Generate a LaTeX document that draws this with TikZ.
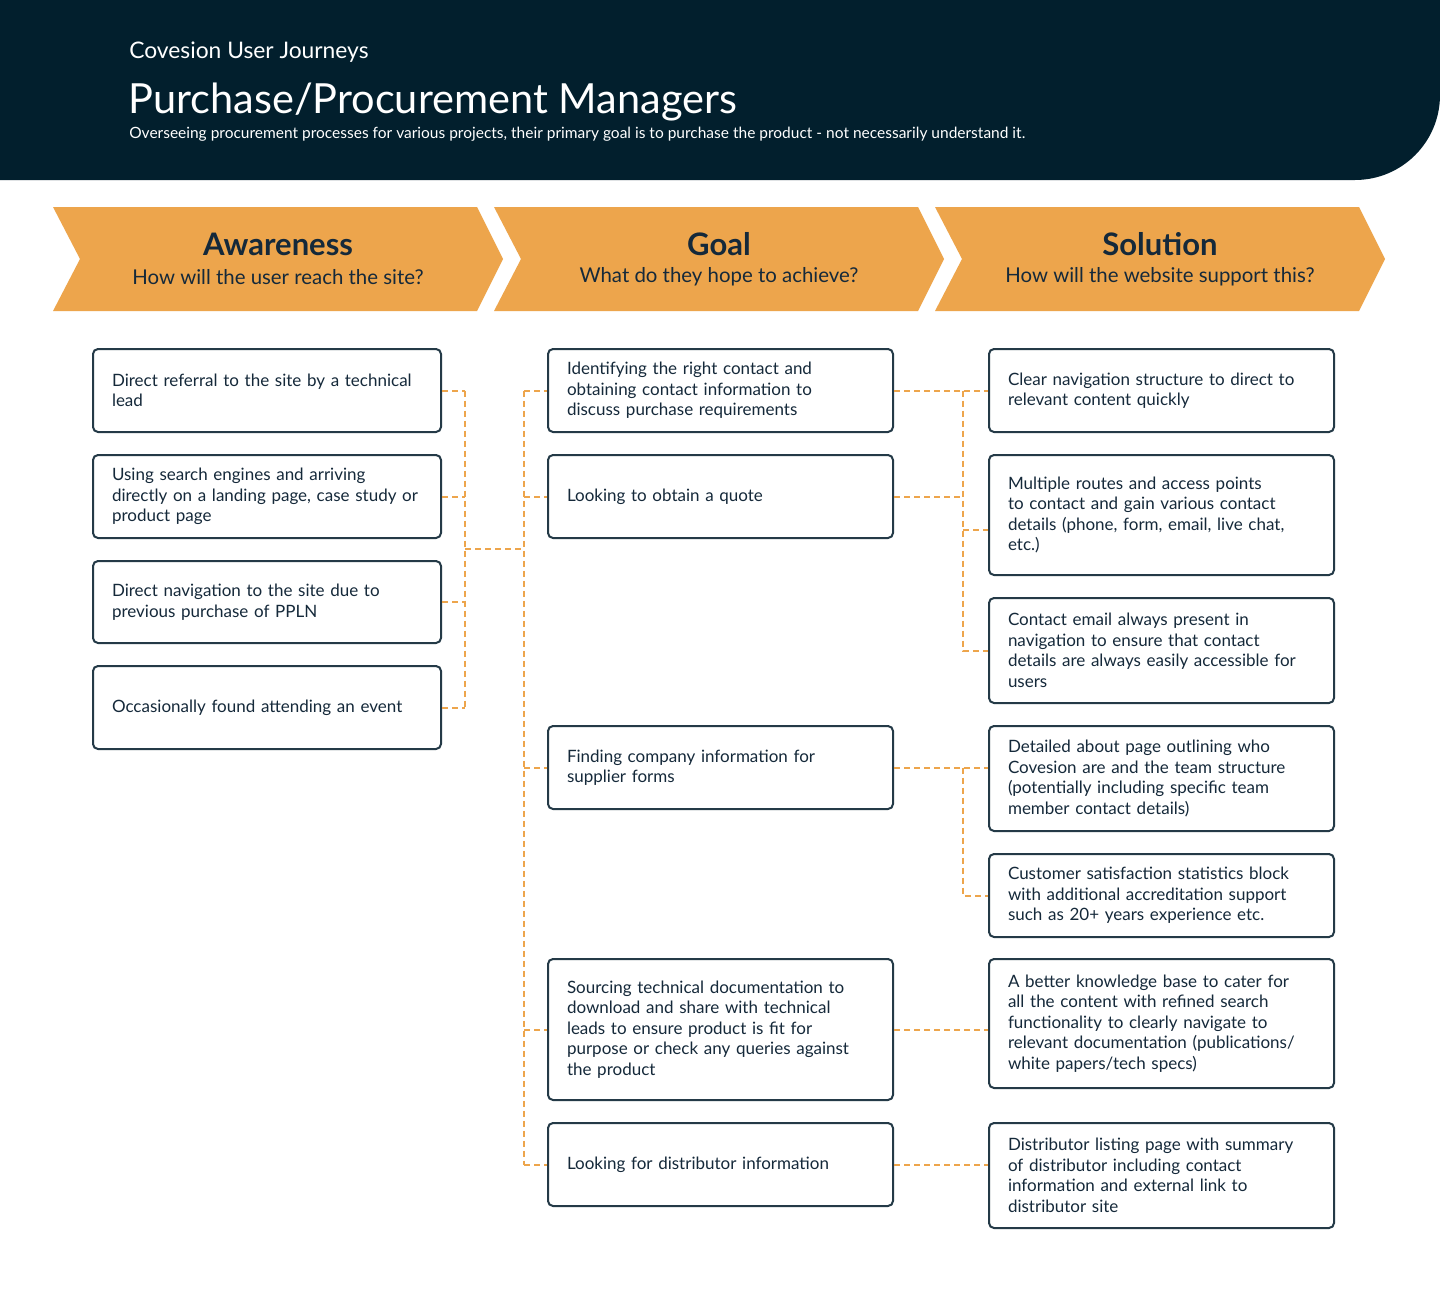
\documentclass[tikz,border=0pt]{standalone}
\usepackage{fontspec}
\setmainfont{Lato}
\usetikzlibrary{calc}
\definecolor{cnavy}{HTML}{021F2D}
\definecolor{corange}{HTML}{EDA54C}
\definecolor{cink}{HTML}{15293A}
\definecolor{cedge}{HTML}{243A47}
\tikzset{
  every picture/.style={line width=2pt},
  box/.style={draw=cedge, rounded corners=5pt, anchor=north west, text=cink, align=left,
    text width=307pt, inner xsep=19pt, inner ysep=0pt, font=\fontsize{17}{20.5}\selectfont},
  widebox/.style={box, text width=310pt},
  link/.style={draw=corange, line width=2pt, dash pattern=on 6pt off 4pt},
  chevron/.style={fill=corange},
  stage/.style={text=cink, font=\fontsize{31}{33}\selectfont\bfseries},
  question/.style={text=cink, font=\fontsize{20.4}{23}\selectfont},
}

\begin{document}
\begin{tikzpicture}[x=1pt, y=-1pt]
  \useasboundingbox[fill=white] (0,0) rectangle (1440,1309);
  \fill[cnavy] (0,0) -- (1440,0) -- (1440,95) .. controls (1440,142) and (1402,180) .. (1355,180) -- (0,180) -- cycle;
  \node[anchor=base west, text=white, font=\fontsize{22.8}{25}\selectfont] (kicker) at (125,58) {Covesion User Journeys};
  \node[anchor=base west, text=white, font=\fontsize{41.5}{45}\selectfont] (title) at (124,113) {Purchase/Procurement Managers};
  \node[anchor=base west, text=white, font=\fontsize{15.5}{17}\selectfont] (lede) at (125,138) {Overseeing procurement processes for various projects, their primary goal is to purchase the product - not necessarily understand it.};

  \foreach \x/\n/\s/\q in {53/aw/Awareness/How will the user reach the site?, 494/go/Goal/What do they hope to achieve?, 935/so/Solution/How will the website support this?}{
    \fill[chevron] (\x,207) -- (\x+424,207) -- (\x+450,259) -- (\x+424,311) -- (\x,311) -- (\x+27,259) -- cycle;
    \node[stage] (\n) at (\x+225,244) {\s};
    \node[question] (\n q) at (\x+225,277) {\q};
  }

  \node[widebox, minimum height=83pt] (a1) at (92,348) {Direct referral to the site by a technical\\lead};
  \node[widebox, minimum height=83pt] (a2) at (92,454) {Using search engines and arriving\\directly on a landing page, case study or\\product page};
  \node[widebox, minimum height=82pt] (a3) at (92,560) {Direct navigation to the site due to\\previous purchase of PPLN};
  \node[widebox, minimum height=83pt] (a4) at (92,665) {Occasionally found attending an event};

  \node[box, minimum height=83pt] (g1) at (547,348) {Identifying the right contact and\\obtaining contact information to\\discuss purchase requirements};
  \node[box, minimum height=83pt] (g2) at (547,454) {Looking to obtain a quote};
  \node[box, minimum height=83pt] (g3) at (547,725) {Finding company information for\\supplier forms};
  \node[box, minimum height=141pt] (g4) at (547,958) {Sourcing technical documentation to\\download and share with technical\\leads to ensure product is fit for\\purpose or check any queries against\\the product};
  \node[box, minimum height=83pt] (g5) at (547,1122) {Looking for distributor information};

  \node[box, minimum height=83pt] (s1) at (988,348) {Clear navigation structure to direct to\\relevant content quickly};
  \node[box, minimum height=120pt] (s2) at (988,454) {Multiple routes and access points\\to contact and gain various contact\\details (phone, form, email, live chat,\\etc.)};
  \node[box, minimum height=105pt] (s3) at (988,597) {Contact email always present in\\navigation to ensure that contact\\details are always easily accessible for\\users};
  \node[box, minimum height=105pt] (s4) at (988,725) {Detailed about page outlining who\\Covesion are and the team structure\\(potentially including specific team\\member contact details)};
  \node[box, minimum height=83pt] (s5) at (988,853) {Customer satisfaction statistics block\\with additional accreditation support\\such as 20+ years experience etc.};
  \node[box, minimum height=129pt] (s6) at (988,958) {A better knowledge base to cater for\\all the content with refined search\\functionality to clearly navigate to\\relevant documentation (publications/\\white papers/tech specs)};
  \node[box, minimum height=105pt] (s7) at (988,1122) {Distributor listing page with summary\\of distributor including contact\\information and external link to\\distributor site};

  \coordinate (busA) at (465,0);
  \coordinate (busG) at (524,0);
  \coordinate (busS) at (963,0);
  \coordinate (joinA) at ($(a1.east)!0.5!(a4.east)$);

  \foreach \n in {a1,a2,a3,a4}{\draw[link] (\n.east) -- (\n.east -| busA);}
  \draw[link] (a1.east -| busA) -- (a4.east -| busA);
  \draw[link] (joinA -| busA) -- (joinA -| busG);
  \draw[link] (g1.west -| busG) -- (g5.west -| busG);
  \foreach \n in {g1,g2,g3,g4,g5}{\draw[link] (\n.west -| busG) -- (\n.west);}

  \draw[link] (g1.east) -- (s1.west |- g1.east);
  \draw[link] (g2.east) -- (g2.east -| busS);
  \draw[link] (g1.east -| busS) -- (s3.west -| busS) -- (s3.west);
  \draw[link] ([yshift=-15pt]s2.west -| busS) -- ([yshift=-15pt]s2.west);
  \draw[link] (g3.east) -- (s4.west |- g3.east);
  \draw[link] (g3.east -| busS) -- (s5.west -| busS) -- (s5.west);
  \draw[link] (g4.east) -- (s6.west |- g4.east);
  \draw[link] (g5.east) -- (s7.west |- g5.east);
\end{tikzpicture}
\end{document}
